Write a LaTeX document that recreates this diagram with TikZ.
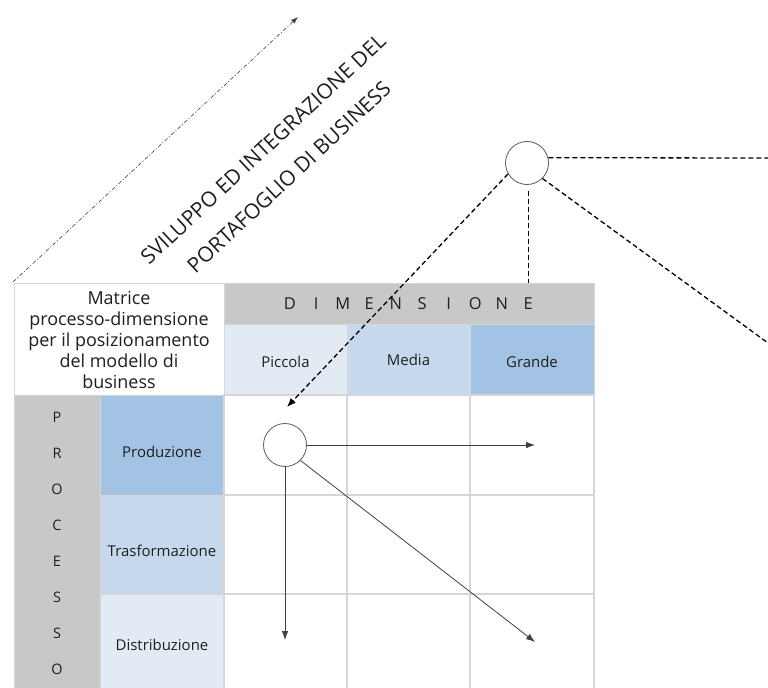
\documentclass[tikz,border=0pt]{standalone}
\usepackage{fontspec}
\setmainfont{Open Sans}
\usetikzlibrary{arrows.meta}
\definecolor{hdrgray}{HTML}{C8C8C8}
\definecolor{blueA}{HTML}{A2C3E4}
\definecolor{blueB}{HTML}{C6D8EB}
\definecolor{blueC}{HTML}{E2EAF4}
\definecolor{gridc}{HTML}{D6D6D6}
\definecolor{txt}{HTML}{1E1E1E}
\newcommand\spacedletter[1]{\makebox[26.5bp]{#1}}
\begin{document}
\begin{tikzpicture}[x=1bp,y=-1bp,
  cellbox/.style={draw=gridc, line width=1bp},
  lbl/.style={font=\fontsize{15}{17}\selectfont, text=txt, inner sep=0pt},
  circ/.style={circle, draw=black!65, line width=0.8bp, minimum size=43bp, inner sep=0pt, fill=white},
  dashconn/.style={draw=black, line width=1.3bp, dash pattern=on 5bp off 3bp},
  solidarrow/.style={draw=black!75, line width=0.8bp, -{Latex[length=9bp,width=6.5bp]}},
  axisline/.style={draw=black!75, line width=0.6bp, dash pattern=on 4bp off 2bp on 1bp off 2bp, -{Latex[length=7bp,width=5bp]}},
]
\useasboundingbox (0,0) rectangle (768,688);
\clip (0,0) rectangle (768,688);

% ---- table backgrounds ----
\filldraw[cellbox, fill=white] (14,283) rectangle (224,395);
\filldraw[cellbox, fill=hdrgray] (224,283) rectangle (594,324);
\filldraw[cellbox, fill=blueC] (224,324) rectangle (347,395);
\filldraw[cellbox, fill=blueB] (347,324) rectangle (470,395);
\filldraw[cellbox, fill=blueA] (470,324) rectangle (594,395);
\filldraw[cellbox, fill=hdrgray] (14,395) rectangle (100,700);
\filldraw[cellbox, fill=blueA] (100,395) rectangle (224,495);
\filldraw[cellbox, fill=blueB] (100,495) rectangle (224,594);
\filldraw[cellbox, fill=blueC] (100,594) rectangle (224,700);
% white cells grid
\foreach \xa/\xb in {224/347,347/470,470/594}{
  \foreach \ya/\yb in {395/495,495/594,594/700}{
    \filldraw[cellbox, line width=1.3bp, fill=white] (\xa,\ya) rectangle (\xb,\yb);
  }
}

% ---- texts ----
\node[font=\fontsize{18}{21}\selectfont, text=txt, align=center, inner sep=0pt] (title) at (119,340)
  {Matrice\\processo-dimensione\\per il posizionamento\\del modello di\\business};
\node[font=\fontsize{16.5}{18}\selectfont, text=txt, inner sep=0pt] (dim) at (409,304)
  {\spacedletter{D}\spacedletter{I}\spacedletter{M}\spacedletter{E}\spacedletter{N}\spacedletter{S}\spacedletter{I}\spacedletter{O}\spacedletter{N}\spacedletter{E}};
\node[lbl] (piccola) at (285.5,362) {Piccola};
\node[lbl] (media) at (408.5,360) {Media};
\node[lbl] (grande) at (532,362) {Grande};
\node[font=\fontsize{14.5}{36.2}\selectfont, text=txt, align=center, inner sep=0pt] (proc) at (57,543.5)
  {P\\R\\O\\C\\E\\S\\S\\O};
\node[lbl] (prod) at (162,452) {Produzione};
\node[lbl] (trasf) at (162,551) {Trasformazione};
\node[lbl] (distr) at (162,645) {Distribuzione};

\node[rotate=43, align=center, font=\fontsize{21}{38}\selectfont, text=txt, inner sep=0pt] (axistext) at (276,163)
  {SVILUPPO ED INTEGRAZIONE DEL\\PORTAFOGLIO DI BUSINESS};

% ---- axis arrow ----
\coordinate (axStart) at (13,282);
\coordinate (axEnd) at (298,17);
\draw[axisline] (axStart) -- (axEnd);

% ---- circles ----
\node[circ] (big) at (527,163) {};
\node[circ] (small) at (285,445) {};

% ---- dashed connectors ----
\coordinate (rEnd) at (768,158);
\coordinate (drEnd) at (768,343);
\coordinate (vEnd) at (528.5,283);
\coordinate (dTip) at (287,407);
\draw[dashconn] (big.14) -- (rEnd);
\draw[dashconn] ([yshift=-6bp]big.south -| vEnd) -- (vEnd);
\draw[dashconn] (big.-45) -- (drEnd);
\draw[dashconn, -{Latex[length=9bp,width=7bp]}] (big.210) -- (dTip);

% ---- solid arrows ----
\coordinate (hTip) at (535,445);
\coordinate (vTip) at (285,640);
\coordinate (gTip) at (535,642);
\draw[solidarrow] (small.east) -- (hTip);
\draw[solidarrow] (small.south) -- (vTip);
\draw[solidarrow] (small.-45) -- (gTip);
\end{tikzpicture}
\end{document}
